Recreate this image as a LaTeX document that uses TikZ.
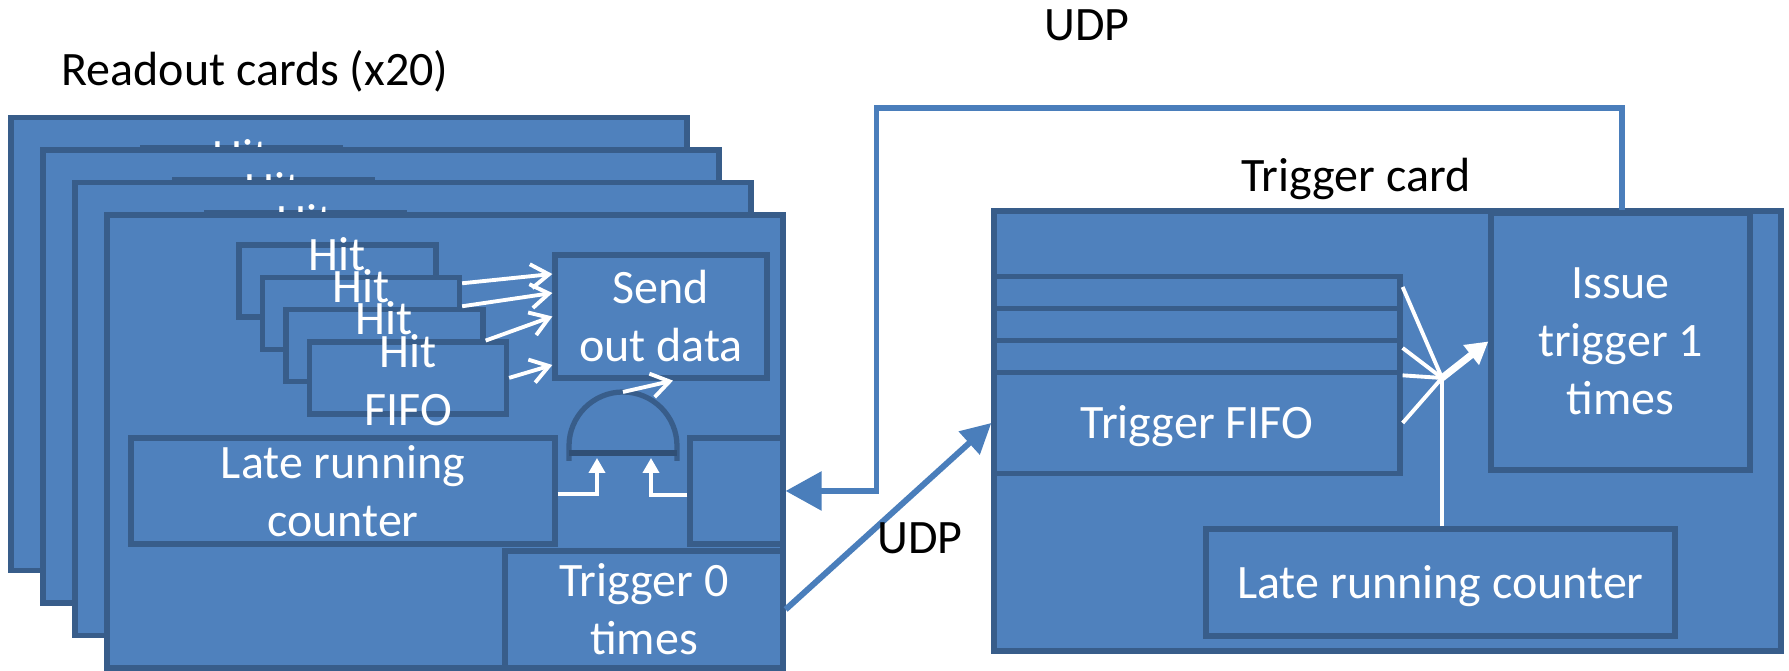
\documentclass[tikz,border=0pt]{standalone}
\usepackage{fontspec}
\setmainfont{Carlito}
\usetikzlibrary{arrows.meta,positioning,calc}
\definecolor{cardfill}{HTML}{4F81BD}
\definecolor{cardline}{HTML}{385D8A}
\definecolor{udpline}{HTML}{4A7EBB}

\begin{document}
\begin{tikzpicture}[
    base/.style={inner sep=0pt, font=\fontsize{13.66}{16.5}\selectfont},
    card/.style={base, rectangle, draw=cardline, fill=cardfill, line width=1.5pt, text=white, align=center},
    oneline/.style={card, text height=0.35cm, text depth=0.03cm},
    hitbox/.style={card, minimum width=1.97cm, minimum height=0.72cm},
    boxtext/.style={base, text=white, align=center},
    heading/.style={base, anchor=base},
    hitarrow/.style={white, line width=1.1pt, -{Straight Barb[length=0.18cm, width=0.24cm]}},
    gatearrow/.style={white, line width=1.1pt, -{Triangle[length=0.15cm, width=0.16cm]}},
    wire/.style={white, line width=1.1pt},
    udp/.style={udpline, line width=1.7pt}
]
    \useasboundingbox (0,0) rectangle (17.89,6.71);

    \node[heading] (readtitle) at (2.55,5.85) {Readout cards (x20)};
    \node[card, minimum width=6.76cm, minimum height=4.53cm] (card1) at (3.49,3.27) {};
    \node[hitbox] (card1hit) at (2.415,4.875) {};
    \node[boxtext] (card1txt) at (2.415,4.855) {Hit\\FIFO};
    \node[card, minimum width=6.76cm, minimum height=4.53cm] (card2) at (3.81,2.945) {};
    \node[hitbox] (card2hit) at (2.735,4.55) {};
    \node[boxtext] (card2txt) at (2.735,4.53) {Hit\\FIFO};
    \node[card, minimum width=6.76cm, minimum height=4.53cm] (card3) at (4.13,2.62) {};
    \node[hitbox] (card3hit) at (3.055,4.225) {};
    \node[boxtext] (card3txt) at (3.055,4.205) {Hit\\FIFO};
    \node[card, minimum width=6.76cm, minimum height=4.53cm] (card4) at (4.45,2.295) {};

    \node[hitbox] (h1) at (3.375,3.90) {};
    \node[boxtext] (h1txt) at (3.375,3.88) {Hit\\FIFO};
    \node[hitbox] (h2) at (3.61,3.577) {};
    \node[boxtext] (h2txt) at (3.61,3.557) {Hit\\FIFO};
    \node[hitbox] (h3) at (3.845,3.254) {};
    \node[boxtext] (h3txt) at (3.845,3.234) {Hit\\FIFO};
    \node[hitbox] (h4) at (4.08,2.931) {};
    \node[boxtext] (h4txt) at (4.08,2.911) {Hit\\FIFO};
    \node[card, minimum width=2.12cm, minimum height=1.23cm] (send) at (6.61,3.545) {Send\\out data};
    \node[card, minimum width=4.24cm, minimum height=1.06cm] (lrc) at (3.43,1.80) {Late running\\counter};
    \node[card, minimum width=0.93cm, minimum height=1.06cm] (hold) at (7.365,1.80) {};
    \node[card, minimum width=2.78cm, minimum height=1.17cm] (trig0) at (6.44,0.615) {Trigger 0\\times};

    \coordinate (gate) at (6.23,2.18);
    \draw[cardline, line width=1.5pt] ([xshift=-0.54cm, yshift=-0.08cm]gate) -- ++(0,0.15) arc[start angle=180, end angle=0, radius=0.54cm] -- ++(0,-0.15);
    \draw[cardline!85!black, line width=1.8pt] ([xshift=-0.54cm]gate) -- ([xshift=0.54cm]gate);

    \draw[hitarrow] ([yshift=0.30cm]h2.east) -- ([yshift=0.425cm]send.west);
    \draw[hitarrow] ([yshift=0.07cm]h2.east) -- ([yshift=0.235cm]send.west);
    \draw[hitarrow] ([yshift=0.05cm]h3.east) -- (send.west);
    \draw[hitarrow] (h4.east) -- ([yshift=-0.485cm]send.west);
    \draw[hitarrow] ([yshift=0.61cm]gate) -- ([xshift=0.12cm]send.south);
    \draw[gatearrow] ([yshift=-0.03cm]lrc.east) -| ([xshift=-0.26cm, yshift=-0.05cm]gate);
    \draw[gatearrow] ([yshift=-0.04cm]hold.west) -| ([xshift=0.28cm, yshift=-0.05cm]gate);

    \node[heading] (trigtitle) at (13.56,4.79) {Trigger card};
    \node[card, minimum width=7.87cm, minimum height=4.40cm] (trigcard) at (13.875,2.40) {};
    \node[card, minimum width=4.06cm, minimum height=0.32cm] (row1) at (11.97,3.785) {};
    \node[card, minimum width=4.06cm, minimum height=0.32cm] (row2) at (11.97,3.465) {};
    \node[card, minimum width=4.06cm, minimum height=0.32cm] (row3) at (11.97,3.145) {};
    \node[oneline, minimum width=4.06cm, minimum height=1.01cm] (tfifo) at (11.97,2.48) {Trigger FIFO};
    \node[card, minimum width=2.59cm, minimum height=2.57cm] (issue) at (16.205,3.295) {Issue\\trigger 1\\times};
    \node[oneline, minimum width=4.69cm, minimum height=1.07cm] (tlrc) at (14.405,0.885) {Late running counter};

    \coordinate (join) at (14.42,2.93);
    \draw[wire] ([yshift=0.055cm]row1.east) -- (join);
    \draw[wire] ([yshift=0.085cm]row3.east) -- (join);
    \draw[wire] ([yshift=-0.055cm]tfifo.north east) -- (join);
    \draw[wire] (tfifo.east) -- (join);
    \draw[wire, line width=1.4pt] ([xshift=0.015cm]tlrc.north) -- (join);
    \draw[white, line width=2pt, -{Triangle[length=0.22cm, width=0.24cm]}] (join) -- (issue.west);

    \coordinate (udpturn) at (8.765,5.63);
    \draw[udp, -{Triangle[length=0.36cm, width=0.38cm]}] ([xshift=0.015cm]issue.north) |- (udpturn) |- (hold.east);
    \node[heading] (udptop) at (10.87,6.30) {UDP};
    \draw[udp, -{Triangle[length=0.3cm, width=0.3cm]}] (trig0.east) -- (tfifo.west);
    \node[heading] (udpbottom) at (9.20,1.17) {UDP};
\end{tikzpicture}
\end{document}
